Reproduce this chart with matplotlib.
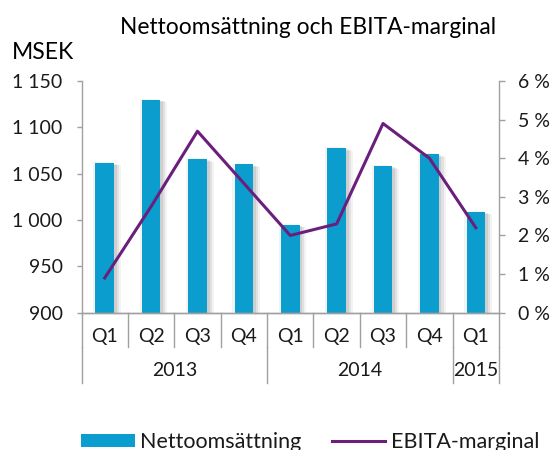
import matplotlib
matplotlib.use("Agg")
import matplotlib.pyplot as plt
import matplotlib.patheffects as pe
from matplotlib.transforms import blended_transform_factory
from matplotlib.lines import Line2D
from matplotlib.patches import Patch

plt.rcParams['font.family'] = ['Lato', 'DejaVu Sans']

# data
quarters = ['Q1', 'Q2', 'Q3', 'Q4', 'Q1', 'Q2', 'Q3', 'Q4', 'Q1']
years = ['2013', '2014', '2015']
year_len = [4, 4, 1]
nettoomsattning = [1062, 1130, 1066, 1060, 995, 1078, 1058, 1071, 1009]
ebita_marginal = [0.9, 2.75, 4.7, 3.35, 2.0, 2.3, 4.9, 4.0, 2.2]

bar_color = '#0a9dcd'
line_color = '#6b1f7c'
axis_color = '#a0a0a0'
text_color = '#1a1a1a'

W, H = 555, 450
fig = plt.figure(figsize=(W / 100, H / 100), dpi=100)
ax = fig.add_axes([81.5 / W, 1 - 312.7 / H, (499 - 81.5) / W, 231.7 / H])
x = list(range(len(quarters)))

# soft shadow behind the bars
shadow = [pe.SimplePatchShadow(offset=(o, -o * 0.4), shadow_rgbFace='#666666', alpha=a)
          for o, a in ((5, 0.08), (3.5, 0.12), (2, 0.15), (-1.5, 0.08))]
ax.bar(x, [v - 900 for v in nettoomsattning], bottom=900, width=0.4, color=bar_color,
       path_effects=shadow + [pe.Normal()], zorder=2)
ax.set_ylim(900, 1150)
ax.set_xlim(-0.5, len(quarters) - 0.5)
ax.set_yticks(range(900, 1151, 50))
ax.set_yticklabels(['{:,}'.format(v).replace(',', ' ') for v in range(900, 1151, 50)])

ax2 = ax.twinx()
ax2.plot(x, ebita_marginal, color=line_color, lw=2.2, zorder=3)
ax2.set_ylim(0, 6)
ax2.set_yticks(range(0, 7))
ax2.set_yticklabels(['%d %%' % v for v in range(0, 7)])

for a in (ax, ax2):
    a.spines['top'].set_visible(False)
    for s in ('left', 'right', 'bottom'):
        a.spines[s].set_color(axis_color)
        a.spines[s].set_linewidth(1.0)
ax.tick_params(axis='y', colors=axis_color, labelcolor=text_color, labelsize=14,
               length=3.6, width=1.0, pad=10)
ax2.tick_params(axis='y', colors=axis_color, labelcolor=text_color, labelsize=14,
                length=4.3, width=1.0, pad=9.5)
ax.set_xticks([])
ax2.spines['left'].set_visible(False)
ax.spines['right'].set_visible(False)

# grouped category axis
ah = 231.7
tr = blended_transform_factory(ax.transData, ax.transAxes)
q_bottom = -(347 - 312.7) / ah
y_bottom = -(383 - 312.7) / ah
for i in range(len(quarters) + 1):
    ax.add_line(Line2D([i - 0.5, i - 0.5], [0, q_bottom], transform=tr, color=axis_color,
                       lw=1.0, clip_on=False))
for i, q in enumerate(quarters):
    ax.text(i, -(336.7 - 312.7) / ah, q, transform=tr, ha='center', va='center',
            fontsize=14, color=text_color)
start = 0
bounds = [-0.5]
for yr, n in zip(years, year_len):
    ax.text(start + (n - 1) / 2, -(370 - 312.7) / ah, yr, transform=tr, ha='center',
            va='center', fontsize=14, color=text_color)
    start += n
    bounds.append(start - 0.5)
for b in bounds:
    ax.add_line(Line2D([b, b], [q_bottom, y_bottom], transform=tr, color=axis_color,
                       lw=1.0, clip_on=False))

fig.text(308.5 / W, 1 - 34 / H, 'Nettoomsättning och EBITA-marginal', ha='center',
         va='baseline', fontsize=16.4, color='black')
fig.text(12 / W, 1 - 59 / H, 'MSEK', ha='left', va='baseline', fontsize=16.5, color='black')

handles = [Patch(facecolor=bar_color, edgecolor='none', label='Nettoomsättning'),
           Line2D([0], [0], color=line_color, lw=2.2, label='EBITA-marginal')]
fig.legend(handles=handles, loc='center left', bbox_to_anchor=(81 / W, 1 - 442 / H), ncol=2,
           frameon=False, fontsize=15.5, handlelength=2.5, handleheight=0.6,
           columnspacing=1.4, handletextpad=0.25, borderpad=0, borderaxespad=0,
           labelcolor=text_color)

fig.savefig('out.png', dpi=100)
